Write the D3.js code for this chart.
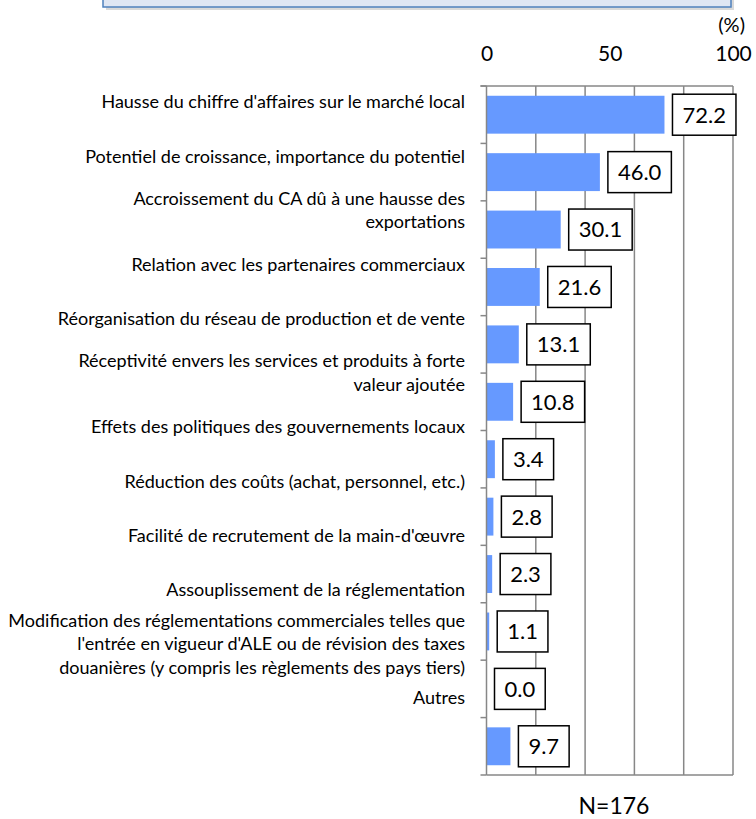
<!DOCTYPE html>
<html>
<head>
<meta charset="utf-8">
<script src="https://cdn.jsdelivr.net/npm/d3@7"></script>
<style>
  body { margin: 0; background: #fff; }
  text { font-family: Lato, "Open Sans", sans-serif; fill: #000; }
</style>
</head>
<body>
<svg id="chart" width="756" height="819"></svg>
<script>
var categories = [
  ["Hausse du chiffre d'affaires sur le marché local"],
  ["Potentiel de croissance, importance du potentiel"],
  ["Accroissement du CA dû à une hausse des", "exportations"],
  ["Relation avec les partenaires commerciaux"],
  ["Réorganisation du réseau de production et de vente"],
  ["Réceptivité envers les services et produits à forte", "valeur ajoutée"],
  ["Effets des politiques des gouvernements locaux"],
  ["Réduction des coûts (achat, personnel, etc.)"],
  ["Facilité de recrutement de la main-d'œuvre"],
  ["Assouplissement de la réglementation"],
  ["Modification des réglementations commerciales telles que", "l'entrée en vigueur d'ALE ou de révision des taxes", "douanières (y compris les règlements des pays tiers)"],
  ["Autres"]
]
var values = [72.2, 46.0, 30.1, 21.6, 13.1, 10.8, 3.4, 2.8, 2.3, 1.1, 0.0, 9.7]
var topTicks = [0, 50, 100]
var gridTicks = [20, 40, 60, 80, 100]
var unitLabel = "(%)"
var sampleNote = "N=176"

var plotL = 486.5, plotR = 733, plotT = 86, plotB = 775

var svg = d3.select("#chart")

// header box, cut at top of picture
svg.append("rect")
  .attr("x", 106).attr("y", -12).attr("width", 628).attr("height", 22)
  .attr("fill", "#000").attr("opacity", 0.15)
svg.append("rect")
  .attr("x", 103).attr("y", -12).attr("width", 628).attr("height", 19)
  .attr("fill", "#dfe6f3").attr("stroke", "#4f81bd").attr("stroke-width", 1.5)

var keys = d3.range(values.length)

var x = d3.scaleLinear().domain([0, 100]).range([plotL, plotR])

var y = d3.scaleBand().domain(keys).range([plotT, plotB])
  .paddingInner(0.34).paddingOuter(0.17)

// labels sit on their own slightly tighter band
var yLabel = d3.scaleBand().domain(keys).range([75, 725])

// grid
svg.append("g").selectAll("line")
  .data(gridTicks)
  .enter().append("line")
    .attr("x1", function(d){ return x(d) }).attr("x2", function(d){ return x(d) })
    .attr("y1", plotT).attr("y2", plotB)
    .attr("stroke", "#878787").attr("stroke-width", 1.5)

svg.append("line")
  .attr("x1", plotL - 6).attr("x2", plotR).attr("y1", plotT).attr("y2", plotT)
  .attr("stroke", "#878787").attr("stroke-width", 1.5)

// bars
svg.append("g").selectAll("rect")
  .data(keys)
  .enter().append("rect")
    .attr("x", x(0))
    .attr("y", function(d){ return y(d) })
    .attr("width", function(d){ return x(values[d]) - x(0) })
    .attr("height", y.bandwidth())
    .attr("fill", "#6699ff")

// left axis with ticks between categories
var gap = (y.step() - y.bandwidth()) / 2
var bounds = keys.map(function(d){ return y(d) - gap }).concat([plotB])
svg.append("g").selectAll("line")
  .data(bounds)
  .enter().append("line")
    .attr("x1", plotL - 6).attr("x2", plotL)
    .attr("y1", function(d){ return d }).attr("y2", function(d){ return d })
    .attr("stroke", "#878787").attr("stroke-width", 1.5)
svg.append("line")
  .attr("x1", plotL).attr("x2", plotL).attr("y1", plotT).attr("y2", plotB)
  .attr("stroke", "#878787").attr("stroke-width", 1.5)
svg.append("line")
  .attr("x1", plotL).attr("x2", plotR).attr("y1", plotB).attr("y2", plotB)
  .attr("stroke", "#878787").attr("stroke-width", 1.5)

// category labels
var lab = svg.append("g").selectAll("text")
  .data(keys)
  .enter().append("text")
    .attr("text-anchor", "end")
    .style("font-size", "18px")
lab.each(function(d){
  var lines = categories[d]
  var cy = yLabel(d) + yLabel.bandwidth() / 2
  var t = d3.select(this)
  lines.forEach(function(s, i){
    t.append("tspan")
      .attr("x", 465)
      .attr("y", cy + (i - (lines.length - 1) / 2) * 23.5)
      .attr("dy", "0.35em")
      .text(s)
  })
})

// value boxes
var vals = svg.append("g").selectAll("g")
  .data(keys)
  .enter().append("g")
vals.each(function(d){
  var g = d3.select(this)
  var cy = y(d) + y.bandwidth() / 2
  var bx = x(values[d]) + 8
  var r = g.append("rect")
  var t = g.append("text")
    .attr("y", cy).attr("dy", "0.36em")
    .attr("text-anchor", "middle")
    .style("font-size", "22px")
    .text(values[d].toFixed(1))
  var w = t.node().getComputedTextLength() + 20
  t.attr("x", bx + w / 2)
  r.attr("x", bx).attr("y", cy - 20.5).attr("width", w).attr("height", 41)
    .attr("fill", "#fff").attr("stroke", "#000").attr("stroke-width", 1.5)
})

// top axis labels
var axisTop = d3.axisTop(x).tickValues(topTicks).tickSize(0).tickPadding(0)
var ga = svg.append("g").attr("transform", "translate(0,61)").call(axisTop)
ga.select(".domain").remove()
ga.selectAll("text").style("font-size", "21px").style("font-family", "Lato, sans-serif").attr("fill", "#000")

svg.append("text")
  .attr("x", 745).attr("y", 32)
  .attr("text-anchor", "end")
  .style("font-size", "20px")
  .text(unitLabel)

svg.append("text")
  .attr("x", 614).attr("y", 814)
  .attr("text-anchor", "middle")
  .style("font-size", "23px")
  .text(sampleNote)
</script>
</body>
</html>
